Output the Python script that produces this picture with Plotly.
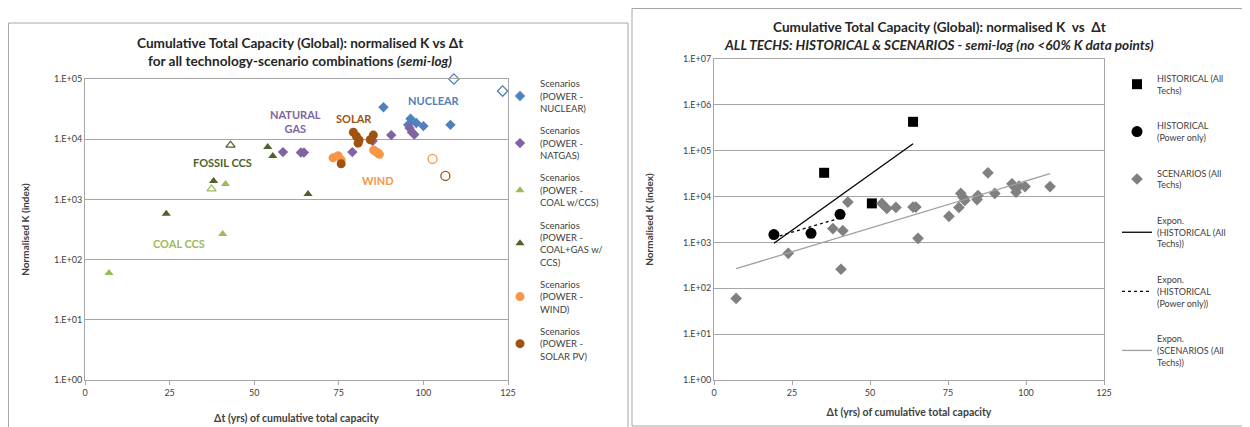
import numpy as np
import plotly.graph_objects as go

# ---------------- data: left panel (per technology) ----------------
nuc_x = [88.2, 95.5, 96.2, 97.9, 100.0, 108.0]
nuc_y = [34000, 17300, 21800, 18600, 16500, 17300]
nuc_open_x = [109.0, 123.4]
nuc_open_y = [100000, 63000]

gas_x = [58.5, 63.8, 64.7, 79.0, 85.0, 90.5, 95.9, 96.6, 97.3]
gas_y = [6100, 6000, 6000, 6100, 9300, 11700, 15300, 13100, 12000]

coal_x = [7.1, 40.7, 41.5]
coal_y = [60, 267, 1800]
coal_open_x = [37.4]
coal_open_y = [1490]

cg_x = [24.0, 38.0, 54.0, 55.5, 65.9]
cg_y = [575, 2030, 7400, 5250, 1230]
cg_open_x = [43.0]
cg_open_y = [7950]

wind_x = [73.3, 74.8, 75.7, 85.3, 86.0, 86.6, 87.0]
wind_y = [4900, 5300, 4500, 6600, 6200, 5900, 5600]
wind_open_x = [102.7]
wind_open_y = [4700]

solar_x = [75.7, 79.3, 80.2, 81.0, 80.7, 84.3, 85.2]
solar_y = [3900, 13100, 11200, 9700, 8600, 9800, 11700]
solar_open_x = [106.5]
solar_open_y = [2450]

# ---------------- data: right panel ----------------
hist_all_x = [35.3, 50.6, 63.8]
hist_all_y = [33000, 7100, 427000]
hist_pow_x = [19.2, 31.1, 40.4]
hist_pow_y = [1480, 1580, 4100]
scen_x = [7.1, 23.8, 38.1, 41.3, 40.7, 42.9, 53.8, 55.4, 58.3, 63.8, 64.7, 65.4,
          75.3, 78.5, 79.1, 79.9, 80.4, 84.3, 84.6, 87.8, 90.0, 95.5, 96.2, 96.8,
          97.8, 99.7, 107.7]
scen_y = [60, 580, 2000, 1800, 260, 7600, 7100, 5500, 5800, 5900, 5900, 1230,
          3700, 5800, 11700, 9500, 8200, 8600, 10500, 33000, 11700, 19000, 16500, 12500,
          17000, 16500, 16500]

x_ticks = [0, 25, 50, 75, 100, 125]
y_ticks_left = [1, 10, 100, 1000, 10000, 100000]
y_ticks_right = [1, 10, 100, 1000, 10000, 100000, 1000000, 10000000]


def etxt(v):
    return "1.E+%02d" % int(round(np.log10(v)))


def expfit(xs, ys):
    xs = np.asarray(xs, float)
    b, a = np.polyfit(xs, np.log10(ys), 1)
    xx = np.array([xs.min(), xs.max()])
    return xx, 10 ** (a + b * xx)


# page body has an 8px margin: figure is sized to fit the window
OFF = 8
W, H = 1250 - OFF, 427 - OFF
FONT = "Lato"
C_NUC = "#4F81BD"
C_GAS = "#8064A2"
C_COAL = "#9BBB59"
C_CG = "#4F6228"
C_WIND = "#F79646"
C_SOLAR = "#A0520F"
TXT = "#404040"

fig = go.Figure()

def add_left(name, xs, ys, sym, col, size, group):
    fig.add_trace(go.Scatter(x=xs, y=ys, mode="markers", name=name,
                             marker=dict(symbol=sym, color=col, size=size),
                             xaxis="x", yaxis="y", legend="legend", legendgroup=group,
                             cliponaxis=False))

def add_left_open(xs, ys, sym, col, size, group):
    fig.add_trace(go.Scatter(x=xs, y=ys, mode="markers", showlegend=False,
                             marker=dict(symbol=sym + "-open", color=col, size=size,
                                         line=dict(width=1.3, color=col)),
                             xaxis="x", yaxis="y", legendgroup=group, cliponaxis=False))

add_left("Scenarios<br>(POWER -<br>NUCLEAR)", nuc_x, nuc_y, "diamond", C_NUC, 8, "g1")
add_left_open(nuc_open_x, nuc_open_y, "diamond", C_NUC, 8, "g1")
add_left("Scenarios<br>(POWER -<br>NATGAS)", gas_x, gas_y, "diamond", C_GAS, 8, "g2")
add_left("Scenarios<br>(POWER -<br>COAL w/CCS)", coal_x, coal_y, "triangle-up", C_COAL, 8, "g3")
add_left_open(coal_open_x, coal_open_y, "triangle-up", C_COAL, 8, "g3")
add_left("Scenarios<br>(POWER -<br>COAL+GAS w/<br>CCS)", cg_x, cg_y, "triangle-up", C_CG, 8, "g4")
add_left_open(cg_open_x, cg_open_y, "triangle-up", C_CG, 8, "g4")
add_left("Scenarios<br>(POWER -<br>WIND)", wind_x, wind_y, "circle", C_WIND, 9, "g5")
add_left_open(wind_open_x, wind_open_y, "circle", C_WIND, 9, "g5")
add_left("Scenarios<br>(POWER -<br>SOLAR PV)", solar_x, solar_y, "circle", C_SOLAR, 9, "g6")
add_left_open(solar_open_x, solar_open_y, "circle", C_SOLAR, 9, "g6")

# right panel
fig.add_trace(go.Scatter(x=hist_all_x, y=hist_all_y, mode="markers",
                         name="HISTORICAL (All<br>Techs)", legendgroup="h1",
                         marker=dict(symbol="square", color="black", size=10),
                         xaxis="x2", yaxis="y2", legend="legend2"))
fig.add_trace(go.Scatter(x=hist_pow_x, y=hist_pow_y, mode="markers",
                         name="HISTORICAL<br>(Power only)", legendgroup="h2",
                         marker=dict(symbol="circle", color="black", size=11),
                         xaxis="x2", yaxis="y2", legend="legend2"))
fig.add_trace(go.Scatter(x=scen_x, y=scen_y, mode="markers",
                         name="SCENARIOS (All<br>Techs)", legendgroup="h3",
                         marker=dict(symbol="diamond", color="#808080", size=9),
                         xaxis="x2", yaxis="y2", legend="legend2"))

fx, fy = expfit(hist_all_x + hist_pow_x, hist_all_y + hist_pow_y)
fig.add_trace(go.Scatter(x=fx, y=fy, mode="lines", name="Expon.<br>(HISTORICAL (All<br>Techs))",
                         legendgroup="h4", line=dict(color="black", width=1.3),
                         xaxis="x2", yaxis="y2", legend="legend2"))
fx, fy = expfit(hist_pow_x, hist_pow_y)
fig.add_trace(go.Scatter(x=fx, y=fy, mode="lines", name="Expon.<br>(HISTORICAL<br>(Power only))",
                         legendgroup="h5", line=dict(color="black", width=1.3, dash="dot"),
                         xaxis="x2", yaxis="y2", legend="legend2"))
fx, fy = expfit(scen_x, scen_y)
fig.add_trace(go.Scatter(x=fx, y=fy, mode="lines", name="Expon.<br>(SCENARIOS (All<br>Techs))",
                         legendgroup="h6", line=dict(color="#A0A0A0", width=1.3),
                         xaxis="x2", yaxis="y2", legend="legend2"))

def px(x):
    return (x - OFF) / W

def py(y):
    return 1 - (y - OFF) / H

axis_common = dict(showline=True, linecolor="#A6A6A6", linewidth=1, mirror=True,
                   automargin=False,
                   tickfont=dict(family=FONT, size=9, color=TXT))
xtitle = dict(text="<b>Δt (yrs) of cumulative total capacity</b>",
              font=dict(family=FONT, size=10.5, color=TXT))
ytitle = dict(text="<b>Normalised K (index)</b>",
              font=dict(family=FONT, size=10, color=TXT))

fig.update_layout(
    width=W, height=H, margin=dict(l=0, r=0, t=0, b=0, autoexpand=False),
    paper_bgcolor="white", plot_bgcolor="white",
    font=dict(family=FONT, color=TXT),
    xaxis=dict(domain=[px(85), px(508)], range=[0, 125], tickvals=x_ticks,
               ticks="outside", ticklen=4, tickcolor="#A6A6A6", showgrid=False, zeroline=False,
               title=dict(standoff=17, **xtitle), anchor="y", **axis_common),
    yaxis=dict(domain=[py(380), py(79)], type="log", range=[0, 5],
               tickvals=y_ticks_left, ticktext=[etxt(v) for v in y_ticks_left],
               showgrid=True, gridcolor="#A6A6A6", gridwidth=1, zeroline=False, ticks="",
               title=dict(standoff=22, **ytitle), anchor="x", **axis_common),
    xaxis2=dict(domain=[px(714), px(1104)], range=[0, 125], tickvals=x_ticks,
                ticks="outside", ticklen=4, tickcolor="#A6A6A6", showgrid=False, zeroline=False,
                title=dict(standoff=11, **xtitle), anchor="y2", **axis_common),
    yaxis2=dict(domain=[py(380), py(59)], type="log", range=[0, 7],
                tickvals=y_ticks_right, ticktext=[etxt(v) for v in y_ticks_right],
                showgrid=True, gridcolor="#A6A6A6", gridwidth=1, zeroline=False, ticks="",
                title=dict(standoff=27, **ytitle), anchor="x2", **axis_common),
    legend=dict(x=px(500), y=py(71), xanchor="left", yanchor="top",
                font=dict(family=FONT, size=9.5, color=TXT), bgcolor="rgba(0,0,0,0)",
                tracegroupgap=7, itemwidth=30),
    legend2=dict(x=px(1117), y=py(66), xanchor="left", yanchor="top",
                 font=dict(family=FONT, size=9, color=TXT), bgcolor="rgba(0,0,0,0)",
                 tracegroupgap=21, itemwidth=30),
)

# panel borders
fig.add_shape(type="rect", xref="paper", yref="paper", x0=max(px(5), 0.0004), x1=px(628),
              y0=py(440), y1=py(23), line=dict(color="#A6A6A6", width=1))
fig.add_shape(type="rect", xref="paper", yref="paper", x0=px(632), x1=px(1248),
              y0=py(426), y1=py(8.5), line=dict(color="#A6A6A6", width=1))

# titles
def title(text, x, y):
    fig.add_annotation(xref="paper", yref="paper", x=px(x), y=py(y), showarrow=False,
                       xanchor="center", yanchor="middle", text=text,
                       font=dict(family=FONT, size=13.6, color="#262626"))

title("<b>Cumulative Total Capacity (Global): normalised K vs Δt</b>", 300, 43)
title("<b>for all technology-scenario combinations <i>(semi-log)</i></b>", 300, 61)
title("<b>Cumulative Total Capacity (Global): normalised K  vs  Δt</b>", 939, 27)
title("<b><i>ALL TECHS: HISTORICAL &amp; SCENARIOS - semi-log (no &lt;60% K data points)</i></b>", 939, 45)

# in-chart labels (left)
lbls = [
    ("NUCLEAR", 103, 10 ** 4.65, C_NUC),
    ("NATURAL<br>GAS", 62.3, 10 ** 4.29, C_GAS),
    ("SOLAR", 79.5, 10 ** 4.35, C_SOLAR),
    ("WIND", 86.6, 10 ** 3.32, C_WIND),
    ("FOSSIL CCS", 40.7, 10 ** 3.62, C_CG),
    ("COAL CCS", 27.9, 10 ** 2.26, C_COAL),
]
for t, x, y, c in lbls:
    fig.add_annotation(xref="x", yref="y", x=x, y=np.log10(y), text="<b>" + t + "</b>",
                       showarrow=False, font=dict(family=FONT, size=11, color=c))

fig.write_html("out.html")
